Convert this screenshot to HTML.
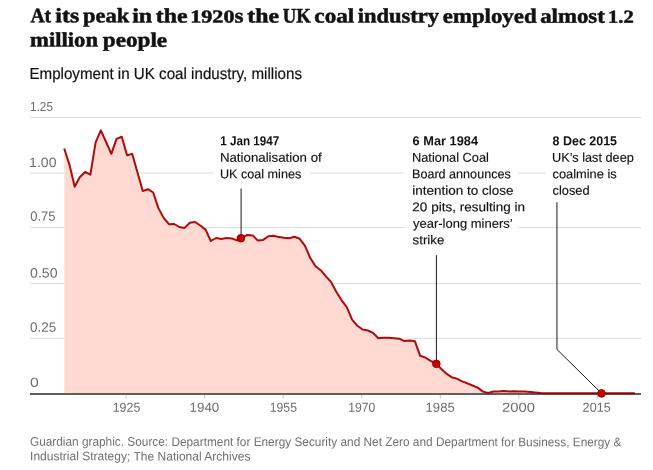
<!DOCTYPE html>
<html lang="en">
<head>
<meta charset="utf-8">
<title>At its peak in the 1920s the UK coal industry employed almost 1.2 million people</title>
<style>
html,body{margin:0;padding:0;background:#fff;}
body{width:653px;height:470px;overflow:hidden;position:relative;font-family:"Liberation Sans",sans-serif;}
svg{position:absolute;left:0;top:0;display:block;}
text{font-family:"Liberation Sans",sans-serif;white-space:pre;}
.ttl{font-family:"Liberation Serif",serif;font-weight:700;font-size:20.5px;}
.sub{font-family:"Liberation Sans",sans-serif;font-weight:400;font-size:16px;}
.ax{font-family:"Liberation Sans",sans-serif;font-weight:400;font-size:13.5px;}
.axx{font-family:"Liberation Sans",sans-serif;font-weight:400;font-size:13px;}
.an{font-family:"Liberation Sans",sans-serif;font-weight:400;font-size:12.7px;}
.ab{font-family:"Liberation Sans",sans-serif;font-weight:700;font-size:13px;}
.ft{font-family:"Liberation Sans",sans-serif;font-weight:400;font-size:12.5px;}
.ttl{fill:#121212;stroke:#121212;stroke-width:0.5px;}
.sub{fill:#121212;stroke:#121212;stroke-width:0.2px;}
.ax,.axx{fill:#6e6e6e;}
.an{fill:#121212;stroke:#121212;stroke-width:0.15px;}
.ab{fill:#121212;}
.ft{fill:#707070;}
.g{stroke:#dcdcdc;stroke-width:1;fill:none;}
.tk{stroke:#c8c8c8;stroke-width:1;}
.cl{stroke:#1a1a1a;stroke-width:1;fill:none;}
.dot{fill:#cc0000;stroke:#8a0000;stroke-width:1;}
</style>
</head>
<body>
<svg width="653" height="470" viewBox="0 0 653 470">
<rect width="653" height="470" fill="#fff"/>
<path d="M30,117.5 H641" class="g"/>
<path d="M30,173.05 H213.3 M310.0,173.05 H404.3 M517.8,173.05 H545.5" class="g"/>
<path d="M30,227.65 H405.4 M518.3,227.65 H641" class="g"/>
<path d="M30,283.65 H641" class="g"/>
<path d="M30,338.3 H641" class="g"/>
<path d="M64.4,394.0 L64.4,148.5 L69.44,164.6 L74.67,186.8 L79.91,177.0 L85.14,172.0 L90.38,174.6 L95.61,142.3 L100.84,130.3 L106.08,142.0 L111.31,153.8 L116.55,138.9 L121.78,136.8 L127.02,155.3 L132.25,153.9 L137.49,172.5 L142.73,191.1 L147.96,189.2 L153.19,192.5 L158.43,208.1 L163.67,217.9 L168.9,224.2 L174.13,224.0 L179.37,227.0 L184.61,227.9 L189.84,222.8 L195.07,222.0 L200.31,225.5 L205.55,229.6 L210.78,241.0 L216.01,238.0 L221.25,239.0 L226.49,238.0 L231.72,238.4 L236.96,240.4 L242.19,237.6 L247.43,234.9 L252.66,235.4 L257.9,240.6 L263.13,239.9 L268.37,236.3 L273.6,235.8 L278.84,237.1 L284.07,237.8 L289.31,238.2 L294.54,236.8 L299.78,238.8 L305.01,245.8 L310.25,258.0 L315.48,266.2 L320.72,270.2 L325.95,276.3 L331.19,282.2 L336.42,292.0 L341.66,300.3 L346.89,307.3 L352.12,319.7 L357.36,325.8 L362.6,329.5 L367.83,330.5 L373.06,332.9 L378.3,338.2 L383.54,337.8 L388.77,337.8 L394.0,338.3 L399.24,338.7 L404.48,341.1 L409.71,340.6 L414.94,341.3 L420.18,355.8 L425.42,357.6 L430.65,360.8 L435.88,363.5 L441.12,368.8 L446.36,373.7 L451.59,377.2 L456.82,378.6 L462.06,381.4 L467.3,383.3 L472.53,385.5 L477.76,387.6 L483.0,391.6 L488.24,393.0 L493.47,391.5 L498.71,391.6 L503.94,390.9 L509.18,391.4 L514.41,391.3 L519.65,391.4 L524.88,391.5 L530.12,391.9 L535.35,392.4 L540.59,392.9 L545.82,393.25 L551.06,393.25 L556.29,393.25 L561.53,393.25 L566.76,393.25 L572.0,393.25 L577.23,393.25 L582.47,393.25 L587.7,393.25 L592.94,393.25 L598.17,393.25 L603.41,393.25 L608.64,393.25 L613.88,393.25 L619.11,393.25 L624.35,393.25 L629.58,393.25 L634.82,393.25 L634.82,394.0 Z" fill="#ffd9d2"/>
<line x1="126.1" x2="126.1" y1="394" y2="398.6" class="tk"/>
<line x1="204.65" x2="204.65" y1="394" y2="398.6" class="tk"/>
<line x1="283.2" x2="283.2" y1="394" y2="398.6" class="tk"/>
<line x1="361.75" x2="361.75" y1="394" y2="398.6" class="tk"/>
<line x1="440.3" x2="440.3" y1="394" y2="398.6" class="tk"/>
<line x1="518.85" x2="518.85" y1="394" y2="398.6" class="tk"/>
<line x1="597.4" x2="597.4" y1="394" y2="398.6" class="tk"/>
<line x1="30" x2="641" y1="394" y2="394" stroke="#7a7a7a" stroke-width="2"/>
<polyline points="64.2,148.5 69.44,164.6 74.67,186.8 79.91,177.0 85.14,172.0 90.38,174.6 95.61,142.3 100.84,130.3 106.08,142.0 111.31,153.8 116.55,138.9 121.78,136.8 127.02,155.3 132.25,153.9 137.49,172.5 142.73,191.1 147.96,189.2 153.19,192.5 158.43,208.1 163.67,217.9 168.9,224.2 174.13,224.0 179.37,227.0 184.61,227.9 189.84,222.8 195.07,222.0 200.31,225.5 205.55,229.6 210.78,241.0 216.01,238.0 221.25,239.0 226.49,238.0 231.72,238.4 236.96,240.4 242.19,237.6 247.43,234.9 252.66,235.4 257.9,240.6 263.13,239.9 268.37,236.3 273.6,235.8 278.84,237.1 284.07,237.8 289.31,238.2 294.54,236.8 299.78,238.8 305.01,245.8 310.25,258.0 315.48,266.2 320.72,270.2 325.95,276.3 331.19,282.2 336.42,292.0 341.66,300.3 346.89,307.3 352.12,319.7 357.36,325.8 362.6,329.5 367.83,330.5 373.06,332.9 378.3,338.2 383.54,337.8 388.77,337.8 394.0,338.3 399.24,338.7 404.48,341.1 409.71,340.6 414.94,341.3 420.18,355.8 425.42,357.6 430.65,360.8 435.88,363.5 441.12,368.8 446.36,373.7 451.59,377.2 456.82,378.6 462.06,381.4 467.3,383.3 472.53,385.5 477.76,387.6 483.0,391.6 488.24,393.0 493.47,391.5 498.71,391.6 503.94,390.9 509.18,391.4 514.41,391.3 519.65,391.4 524.88,391.5 530.12,391.9 535.35,392.4 540.59,392.9 545.82,393.25 551.06,393.25 556.29,393.25 561.53,393.25 566.76,393.25 572.0,393.25 577.23,393.25 582.47,393.25 587.7,393.25 592.94,393.25 598.17,393.25 603.41,393.25 608.64,393.25 613.88,393.25 619.11,393.25 624.35,393.25 629.58,393.25 634.82,393.25" fill="none" stroke="#b00a0a" stroke-width="2" stroke-linejoin="round" stroke-linecap="butt"/>
<line x1="30" x2="641" y1="394" y2="394" stroke="#000" stroke-opacity="0.22" stroke-width="2"/>
<text y="22.55" class="ttl" transform="matrix(1,0.0008,0,1,0,-0.2654)"><tspan x="30.40" textLength="20.79" lengthAdjust="spacingAndGlyphs">At</tspan> <tspan x="55.33" textLength="23.91" lengthAdjust="spacingAndGlyphs">its</tspan> <tspan x="83.10" textLength="46.16" lengthAdjust="spacingAndGlyphs">peak</tspan> <tspan x="132.23" textLength="20.00" lengthAdjust="spacingAndGlyphs">in</tspan> <tspan x="155.83" textLength="31.69" lengthAdjust="spacingAndGlyphs">the</tspan> <tspan x="190.27" font-size="18.2" textLength="44.22" lengthAdjust="spacingAndGlyphs">1920</tspan><tspan x="234.54" textLength="8.99" lengthAdjust="spacingAndGlyphs">s</tspan> <tspan x="247.33" textLength="31.80" lengthAdjust="spacingAndGlyphs">the</tspan> <tspan x="282.81" textLength="28.03" lengthAdjust="spacingAndGlyphs">UK</tspan> <tspan x="314.38" textLength="39.80" lengthAdjust="spacingAndGlyphs">coal</tspan> <tspan x="357.75" textLength="81.35" lengthAdjust="spacingAndGlyphs">industry</tspan> <tspan x="442.79" textLength="93.82" lengthAdjust="spacingAndGlyphs">employed</tspan> <tspan x="540.19" textLength="64.57" lengthAdjust="spacingAndGlyphs">almost</tspan> <tspan x="608.10" font-size="18.2" textLength="25.64" lengthAdjust="spacingAndGlyphs">1.2</tspan></text>
<text y="46.6" class="ttl" transform="matrix(1,0.0008,0,1,0,-0.0788)"><tspan x="30.05" textLength="67.96" lengthAdjust="spacingAndGlyphs">million</tspan> <tspan x="102.80" textLength="64.31" lengthAdjust="spacingAndGlyphs">people</tspan></text>
<text x="29.42" y="79.0" class="sub" transform="matrix(1,0.0008,0,1,0,-0.1328)" textLength="272.56" lengthAdjust="spacingAndGlyphs">Employment in UK coal industry, millions</text>
<text x="30.06" y="111.0" class="axx" transform="matrix(1,0.0008,0,1,0,-0.0333)" textLength="22.91" lengthAdjust="spacingAndGlyphs">1.25</text>
<text x="29.12" y="167.0" class="ax" transform="matrix(1,0.0008,0,1,0,-0.0345)" textLength="27.43" lengthAdjust="spacingAndGlyphs">1.00</text>
<text x="30.19" y="220.8" class="ax" transform="matrix(1,0.0008,0,1,0,-0.0342)" textLength="25.23" lengthAdjust="spacingAndGlyphs">0.75</text>
<text x="30.06" y="277.55" class="ax" transform="matrix(1,0.0008,0,1,0,-0.0351)" textLength="27.60" lengthAdjust="spacingAndGlyphs">0.50</text>
<text x="30.08" y="331.65" class="ax" transform="matrix(1,0.0008,0,1,0,-0.0345)" textLength="26.27" lengthAdjust="spacingAndGlyphs">0.25</text>
<text x="30.01" y="386.7" class="axx" transform="matrix(1,0.0008,0,1,0,-0.0276)" textLength="8.79" lengthAdjust="spacingAndGlyphs">0</text>
<text x="112.73" y="411.8" class="axx" transform="matrix(1,0.0008,0,1,0,-0.1013)" textLength="27.58" lengthAdjust="spacingAndGlyphs">1925</text>
<text x="189.57" y="411.8" class="axx" transform="matrix(1,0.0008,0,1,0,-0.1637)" textLength="29.67" lengthAdjust="spacingAndGlyphs">1940</text>
<text x="269.73" y="411.8" class="axx" transform="matrix(1,0.0008,0,1,0,-0.2268)" textLength="27.26" lengthAdjust="spacingAndGlyphs">1955</text>
<text x="348.34" y="411.8" class="axx" transform="matrix(1,0.0008,0,1,0,-0.2897)" textLength="27.06" lengthAdjust="spacingAndGlyphs">1970</text>
<text x="425.58" y="411.8" class="axx" transform="matrix(1,0.0008,0,1,0,-0.3522)" textLength="29.15" lengthAdjust="spacingAndGlyphs">1985</text>
<text x="502.11" y="411.8" class="axx" transform="matrix(1,0.0008,0,1,0,-0.4150)" textLength="32.96" lengthAdjust="spacingAndGlyphs">2000</text>
<text x="582.61" y="411.8" class="axx" transform="matrix(1,0.0008,0,1,0,-0.4774)" textLength="28.10" lengthAdjust="spacingAndGlyphs">2015</text>
<text x="29.93" y="446.0" class="ft" transform="matrix(1,0.0008,0,1,0,-0.2607)" textLength="591.55" lengthAdjust="spacingAndGlyphs">Guardian graphic. Source: Department for Energy Security and Net Zero and Department for Business, Energy &amp;</text>
<text x="30.10" y="460.4" class="ft" transform="matrix(1,0.0008,0,1,0,-0.1125)" textLength="220.33" lengthAdjust="spacingAndGlyphs">Industrial Strategy; The National Archives</text>
<text x="220.22" y="145.3" class="ab" transform="matrix(1,0.0008,0,1,0,-0.1999)" textLength="59.15" lengthAdjust="spacingAndGlyphs">1 Jan 1947</text>
<text x="219.90" y="161.8" class="an" transform="matrix(1,0.0008,0,1,0,-0.2171)" textLength="101.87" lengthAdjust="spacingAndGlyphs">Nationalisation of</text>
<text x="220.01" y="178.3" class="an" transform="matrix(1,0.0008,0,1,0,-0.2087)" textLength="81.24" lengthAdjust="spacingAndGlyphs">UK coal mines</text>
<text x="412.60" y="145.3" class="ab" transform="matrix(1,0.0008,0,1,0,-0.3564)" textLength="65.42" lengthAdjust="spacingAndGlyphs">6 Mar 1984</text>
<text x="411.99" y="161.8" class="an" transform="matrix(1,0.0008,0,1,0,-0.3604)" textLength="76.94" lengthAdjust="spacingAndGlyphs">National Coal</text>
<text x="412.01" y="178.3" class="an" transform="matrix(1,0.0008,0,1,0,-0.3693)" textLength="98.74" lengthAdjust="spacingAndGlyphs">Board announces</text>
<text x="412.15" y="194.8" class="an" transform="matrix(1,0.0008,0,1,0,-0.3704)" textLength="101.35" lengthAdjust="spacingAndGlyphs">intention to close</text>
<text x="412.36" y="211.3" class="an" transform="matrix(1,0.0008,0,1,0,-0.3748)" textLength="112.60" lengthAdjust="spacingAndGlyphs">20 pits, resulting in</text>
<text x="413.00" y="227.8" class="an" transform="matrix(1,0.0008,0,1,0,-0.3699)" textLength="99.59" lengthAdjust="spacingAndGlyphs">year-long miners’</text>
<text x="412.63" y="244.3" class="an" transform="matrix(1,0.0008,0,1,0,-0.3427)" textLength="31.65" lengthAdjust="spacingAndGlyphs">strike</text>
<text x="552.61" y="145.3" class="ab" transform="matrix(1,0.0008,0,1,0,-0.4679)" textLength="64.40" lengthAdjust="spacingAndGlyphs">8 Dec 2015</text>
<text x="552.05" y="161.8" class="an" transform="matrix(1,0.0008,0,1,0,-0.4745)" textLength="81.77" lengthAdjust="spacingAndGlyphs">UK’s last deep</text>
<text x="552.49" y="178.3" class="an" transform="matrix(1,0.0008,0,1,0,-0.4677)" textLength="64.26" lengthAdjust="spacingAndGlyphs">coalmine is</text>
<text x="552.49" y="194.8" class="an" transform="matrix(1,0.0008,0,1,0,-0.4567)" textLength="37.13" lengthAdjust="spacingAndGlyphs">closed</text>
<path d="M241.1,188.5 V238.2" class="cl"/>
<path d="M436.4,255.2 V363.8" class="cl"/>
<path d="M556.95,202.2 V349.4 L601.5,393.3" class="cl"/>
<circle cx="240.9" cy="238.2" r="3.8" class="dot"/>
<circle cx="436.3" cy="363.8" r="3.8" class="dot"/>
<circle cx="601.5" cy="393.4" r="3.8" class="dot"/>
</svg>
</body>
</html>
